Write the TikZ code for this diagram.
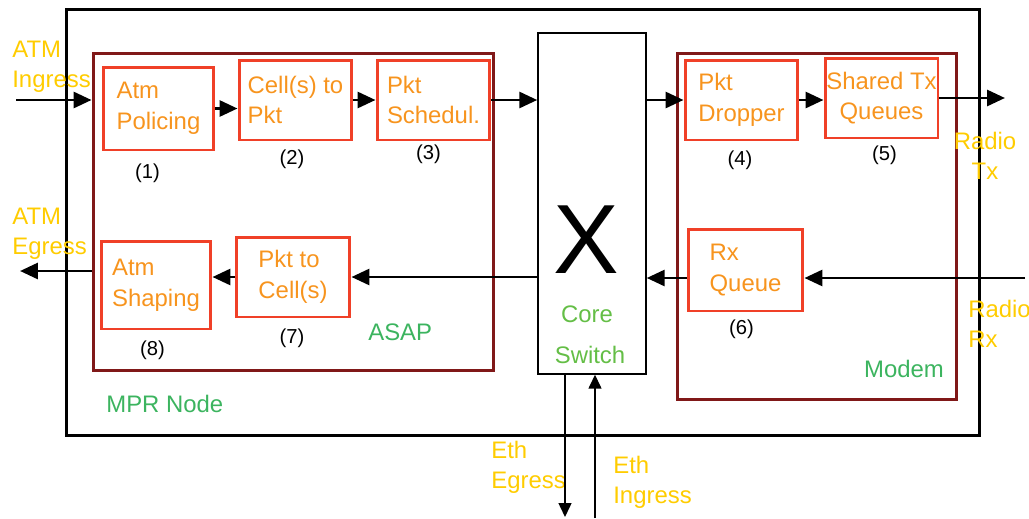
\documentclass[tikz,border=0pt]{standalone}
\usepackage{fontspec}
\usepackage{tikz}
\usetikzlibrary{arrows.meta}
\setmainfont{Liberation Sans}
\definecolor{BoxRed}{RGB}{240,64,40}
\definecolor{DarkRed}{RGB}{128,24,24}
\definecolor{BoxText}{RGB}{247,148,30}
\definecolor{PortYellow}{RGB}{255,204,0}
\definecolor{TagGreen}{RGB}{60,180,95}
\definecolor{SwGreen}{RGB}{100,190,70}
\tikzset{
  blk/.style={draw=BoxRed,line width=1.7pt,text=BoxText,align=left,inner sep=0pt,
    font=\fontsize{13.6}{17.4}\selectfont},
  grp/.style={draw=DarkRed,line width=1.7pt,inner sep=0pt},
  port/.style={text=PortYellow,align=left,inner sep=0pt,font=\fontsize{13.6}{17.1}\selectfont},
  tag/.style={text=TagGreen,inner sep=0pt,font=\fontsize{13.6}{17.1}\selectfont},
  num/.style={inner sep=0pt,font=\fontsize{11.5}{13}\selectfont},
  arr/.style={line width=1.7pt,-{Triangle[length=0.36cm,width=0.32cm]}},
  thinarr/.style={line width=0.85pt,-{Triangle[length=0.28cm,width=0.26cm]}},
}

\begin{document}
\begin{tikzpicture}[x=0.02cm,y=-0.02cm]
  \useasboundingbox (0,0) rectangle (1029,518);

  \node[draw,line width=1.7pt,inner sep=0pt,minimum width=18.28cm,minimum height=8.54cm] (mpr) at (523,222.5) {};
  \node[grp,minimum width=8.02cm,minimum height=6.36cm] (asap) at (293.5,212) {};
  \node[grp,minimum width=5.6cm,minimum height=6.94cm] (modem) at (817,226.5) {};
  \node[draw,line width=0.85pt,inner sep=0pt,minimum width=2.16cm,minimum height=6.82cm] (sw) at (592,203.5) {};

  \node[blk,minimum width=2.22cm,minimum height=1.66cm] (pol) at (158.5,108.5) {Atm\\Policing};
  \node[blk,minimum width=2.26cm,minimum height=1.6cm] (c2p) at (295.5,100) {Cell(s) to\\Pkt};
  \node[blk,minimum width=2.26cm,minimum height=1.6cm] (sched) at (433.5,100) {Pkt\\Schedul.};
  \node[blk,minimum width=2.26cm,minimum height=1.6cm] (drop) at (741.5,100) {Pkt\\Dropper};
  \node[blk,align=center,minimum width=2.26cm,minimum height=1.6cm] (txq) at (881.5,98) {Shared Tx\\Queues};
  \node[blk,minimum width=2.3cm,minimum height=1.64cm] (rxq) at (745.5,270) {Rx\\Queue};
  \node[blk,minimum width=2.28cm,minimum height=1.6cm] (p2c) at (293,277) {Pkt to\\Cell(s)};
  \node[blk,minimum width=2.2cm,minimum height=1.76cm] (shape) at (156,285) {Atm\\Shaping};

  \node[num] (n1) at (147.5,173.5) {(1)};
  \node[num] (n2) at (292,159) {(2)};
  \node[num] (n3) at (428.5,154) {(3)};
  \node[num] (n4) at (740,160) {(4)};
  \node[num] (n5) at (884.5,155) {(5)};
  \node[num] (n6) at (741.5,329.5) {(6)};
  \node[num] (n7) at (292,338) {(7)};
  \node[num] (n8) at (152.5,350) {(8)};

  \node[inner sep=0pt,font=\fontsize{56}{56}\selectfont] (cross) at (586,240) {X};
  \node[tag,text=SwGreen,anchor=base] (core) at (587,322) {Core};
  \node[tag,text=SwGreen,anchor=base] (swlbl) at (590,363) {Switch};
  \node[tag,anchor=base west] (asaplbl) at (368,340) {ASAP};
  \node[tag,anchor=base west] (mprlbl) at (106,412) {MPR Node};
  \node[tag,anchor=base] (modemlbl) at (904,377) {Modem};

  \node[port,anchor=north west] (atmin_l) at (12,41) {ATM\\Ingress};
  \node[port,anchor=north west] (atmout_l) at (12,208) {ATM\\Egress};
  \node[port,align=center,anchor=north] (radtx_l) at (985,132) {Radio\\Tx};
  \node[port,anchor=north west] (radrx_l) at (968,300) {Radio\\Rx};
  \node[port,anchor=north west] (ethout_l) at (491,441) {Eth\\Egress};
  \node[port,anchor=north west] (ethin_l) at (613,456) {Eth\\Ingress};

  \coordinate (atmin) at (16,100);
  \coordinate (atmout) at (20,271);
  \coordinate (radtx) at (1005,98);
  \coordinate (radrx) at (1025,278);
  \coordinate (ethout) at (565,517);
  \coordinate (ethin) at (595,518);

  \draw[arr] (atmin) -- (atmin -| asap.west);
  \draw[arr] (pol.east) -- (pol.east -| c2p.west);
  \draw[arr] (c2p.east) -- (sched.west);
  \draw[arr] (sched.east) -- (sched.east -| sw.west);
  \draw[arr] (sw.east |- drop.west) -- (drop.west);
  \draw[arr] (drop.east) -- (drop.east -| txq.west);
  \draw[arr] (txq.east) -- (txq.east -| radtx);
  \draw[arr] (radrx) -- (radrx -| rxq.east);
  \draw[arr] (rxq.west |- radrx) -- (sw.east |- radrx);
  \draw[arr] (sw.west |- p2c.east) -- (p2c.east);
  \draw[arr] (p2c.west) -- (p2c.west -| shape.east);
  \draw[arr] (asap.west |- atmout) -- (atmout);
  \draw[thinarr] (sw.south -| ethout) -- (ethout);
  \draw[thinarr] (ethin) -- (ethin |- sw.south);
\end{tikzpicture}
\end{document}
